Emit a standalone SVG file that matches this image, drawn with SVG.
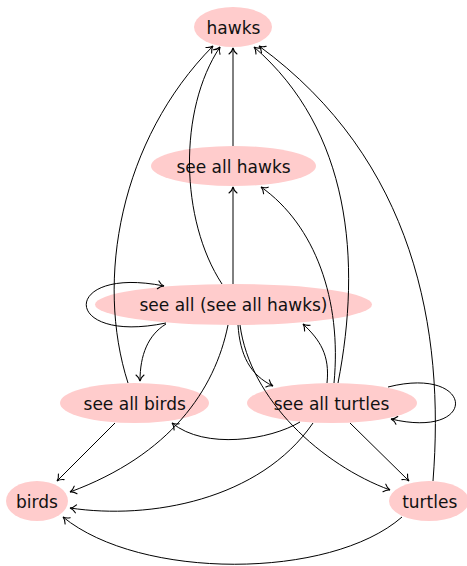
<svg xmlns="http://www.w3.org/2000/svg" width="467" height="566" viewBox="0 0 467 566">
<defs>
<style>
.node ellipse{fill:#ffcccc;stroke:none}
.node text{font-family:"DejaVu Sans",sans-serif;font-size:17px;fill:#111;text-anchor:middle}
.edges path{fill:none;stroke:#000;stroke-width:1;marker-end:url(#arr)}
</style>
<marker id="arr" markerUnits="userSpaceOnUse" markerWidth="12" markerHeight="12" viewBox="-8 -6 10 12" refX="0" refY="0" orient="auto" overflow="visible">
<path d="M -6 -4 C -4.2 -1.7 -1.7 -0.4 0 0 C -1.7 0.4 -4.2 1.7 -6 4" fill="none" stroke="#000" stroke-width="1.1" stroke-linecap="round"/>
</marker>
</defs>
<rect width="467" height="566" fill="#fff"/>
<g id="hawks" class="node"><ellipse cx="233" cy="27" rx="39" ry="20"/><text x="233.5" y="33.5">hawks</text></g>
<g id="see-all-hawks" class="node"><ellipse cx="233.5" cy="166" rx="82.5" ry="20"/><text x="233.5" y="172.5">see all hawks</text></g>
<g id="see-all-see-all-hawks" class="node"><ellipse cx="233.5" cy="304.5" rx="138.5" ry="20.5"/><text x="233.5" y="311">see all (see all hawks)</text></g>
<g id="see-all-birds" class="node"><ellipse cx="134.5" cy="403" rx="74.5" ry="20"/><text x="134.7" y="409.5">see all birds</text></g>
<g id="see-all-turtles" class="node"><ellipse cx="332" cy="403" rx="85" ry="20"/><text x="331.5" y="409.5">see all turtles</text></g>
<g id="birds" class="node"><ellipse cx="37" cy="501" rx="31" ry="20"/><text x="37" y="507.5">birds</text></g>
<g id="turtles" class="node"><ellipse cx="429" cy="501" rx="40" ry="20"/><text x="429.7" y="507.5">turtles</text></g>
<g id="connectors" class="edges">
<path d="M 233 146 L 233 48"/>
<path d="M 233 284 L 233 187"/>
<path d="M 222 284 C 180 220 178 110 220 47"/>
<path d="M 128 383 C 95 280 120 140 213 46"/>
<path d="M 338 383 C 362 260 350 130 254 47"/>
<path d="M 334 383 C 342 300 315 225 261 187"/>
<path d="M 327 383 C 330 355 320 340 303 324"/>
<path d="M 166 323 C 60 345 60 265 164 286"/>
<path d="M 166 324 C 148 335 140 355 140 381"/>
<path d="M 228 325 C 215 390 170 455 70 492"/>
<path d="M 238 325 C 240 355 250 375 273 386"/>
<path d="M 240 325 C 250 400 322 465 390 490"/>
<path d="M 388 387 C 475 365 480 440 391 419"/>
<path d="M 300 422 C 270 440 205 450 172 423"/>
<path d="M 313 423 C 260 500 150 520 70 508"/>
<path d="M 350 423 L 409 481"/>
<path d="M 115 423 L 57 481"/>
<path d="M 402 517 C 330 580 140 580 63 517"/>
<path d="M 433 481 C 445 330 415 160 259 46"/>
</g>
</svg>
